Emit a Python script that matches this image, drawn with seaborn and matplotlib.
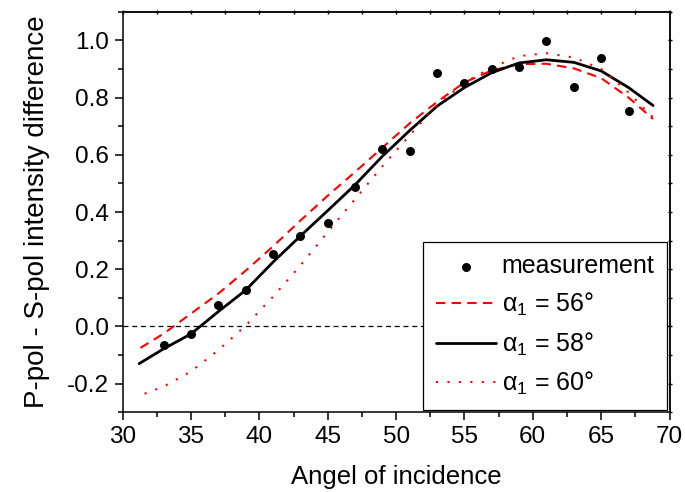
import matplotlib
matplotlib.use("Agg")
import matplotlib.pyplot as plt
from matplotlib.ticker import MultipleLocator
import seaborn as sns
import pandas as pd

# Measured intensity difference (P-pol minus S-pol) vs. angle of incidence
meas_angle = [33, 35, 37, 39, 41, 43, 45, 47, 49, 51, 53, 55, 57, 59, 61, 63, 65, 67]
meas_value = [-0.065, -0.027, 0.074, 0.129, 0.252, 0.316, 0.362, 0.486, 0.620, 0.614,
              0.887, 0.851, 0.899, 0.908, 0.998, 0.838, 0.939, 0.754]

# Simulated curves for three values of alpha_1
sim56_angle = [31.3, 33, 35, 37, 39, 41, 43, 45, 47, 49, 51, 53, 55, 57, 59, 61, 63, 65, 67, 68.8]
sim56_value = [-0.075, -0.025, 0.045, 0.115, 0.195, 0.280, 0.370, 0.457, 0.540, 0.625,
               0.710, 0.785, 0.853, 0.895, 0.917, 0.918, 0.902, 0.868, 0.800, 0.725]

sim58_angle = [31.2, 33, 35, 37, 39, 41, 43, 45, 47, 49, 51, 53, 55, 57, 59, 61, 63, 65, 67, 68.8]
sim58_value = [-0.130, -0.078, -0.026, 0.052, 0.127, 0.225, 0.316, 0.405, 0.495, 0.595,
               0.685, 0.770, 0.835, 0.887, 0.921, 0.932, 0.923, 0.893, 0.835, 0.772]

sim60_angle = [31.6, 33, 35, 37, 39, 41, 43, 45, 47, 49, 51, 53, 55, 57, 59, 61, 63, 65, 67, 68.8]
sim60_value = [-0.235, -0.210, -0.157, -0.083, 0.003, 0.104, 0.213, 0.330, 0.445, 0.560,
               0.668, 0.775, 0.852, 0.905, 0.945, 0.955, 0.940, 0.900, 0.818, 0.730]

y_ticks = [-0.2, 0.0, 0.2, 0.4, 0.6, 0.8, 1.0]
y_tick_labels = ["-0.2", "0.0", "0.2", "0.4", "0.6", "0.8", "1.0"]

sns.set_theme(style="ticks")
plt.rcParams["font.family"] = ["Liberation Sans", "DejaVu Sans"]
plt.rcParams["mathtext.fontset"] = "custom"
plt.rcParams["mathtext.rm"] = "Liberation Sans"
plt.rcParams["mathtext.it"] = "Liberation Sans:italic"
plt.rcParams["axes.linewidth"] = 1.1
plt.rcParams["text.color"] = "black"
plt.rcParams["axes.labelcolor"] = "black"
plt.rcParams["xtick.color"] = "black"
plt.rcParams["ytick.color"] = "black"

fig = plt.figure(figsize=(6.85, 4.92), dpi=100)
ax = fig.add_axes([0.1791, 0.1620, 0.9774 - 0.1791, 0.9762 - 0.1620])

ax.axhline(0, color="black", lw=0.9, dashes=(4, 3), zorder=1)

meas_df = pd.DataFrame({"angle": meas_angle, "value": meas_value})
sns.scatterplot(data=meas_df, x="angle", y="value", ax=ax, color="black", s=42,
                edgecolor="black", linewidth=0, label="measurement", zorder=5)

curves = [
    (sim56_angle, sim56_value, r"$\mathregular{\alpha_1}$ = 56°", "red", (4.5, 3.0), 1.5),
    (sim58_angle, sim58_value, r"$\mathregular{\alpha_1}$ = 58°", "black", None, 2.0),
    (sim60_angle, sim60_value, r"$\mathregular{\alpha_1}$ = 60°", "red", (1.0, 4.5), 1.5),
]
for xs, ys, lab, col, dash, lw in curves:
    df = pd.DataFrame({"angle": xs, "value": ys})
    sns.lineplot(data=df, x="angle", y="value", ax=ax, color=col, lw=lw,
                 estimator=None, sort=False, label=lab, zorder=4)
    if dash is not None:
        ax.lines[-1].set_dashes(dash)

ax.set_xlim(30, 70)
ax.set_ylim(-0.3, 1.1)
ax.xaxis.set_major_locator(MultipleLocator(5))
ax.xaxis.set_minor_locator(MultipleLocator(2.5))
ax.set_yticks(y_ticks)
ax.set_yticklabels(y_tick_labels)
ax.yaxis.set_minor_locator(MultipleLocator(0.1))

ax.tick_params(which="major", direction="out", length=6, width=1.1, labelsize=17.5,
               colors="black", top=False, right=False, pad=4)
ax.tick_params(which="minor", direction="out", length=3.5, width=1.1,
               top=False, right=False)
for s in ax.spines.values():
    s.set_color("black")
    s.set_visible(True)

# small ticks on the top and right frame
secx = ax.secondary_xaxis("top")
secx.xaxis.set_major_locator(MultipleLocator(5))
secx.xaxis.set_minor_locator(MultipleLocator(2.5))
secx.tick_params(which="both", direction="inout", length=3, width=1.0, labeltop=False)
secy = ax.secondary_yaxis("right")
secy.yaxis.set_major_locator(MultipleLocator(0.2))
secy.yaxis.set_minor_locator(MultipleLocator(0.1))
secy.tick_params(which="both", direction="inout", length=3, width=1.0, labelright=False)

ax.set_xlabel("Angel of incidence", fontsize=18.5, labelpad=12)
ax.set_ylabel("P-pol - S-pol intensity difference", fontsize=20, labelpad=12)

handles, labels = ax.get_legend_handles_labels()
leg = ax.legend(handles, labels, loc="lower right", bbox_to_anchor=(1.0, 0.0),
                borderaxespad=0.1, fontsize=18, frameon=True, fancybox=False,
                framealpha=1, edgecolor="black", handlelength=2.4,
                handletextpad=0.25, labelspacing=0.5, borderpad=0.5)
leg.get_frame().set_linewidth(0.9)

fig.savefig("out.png", dpi=100)
